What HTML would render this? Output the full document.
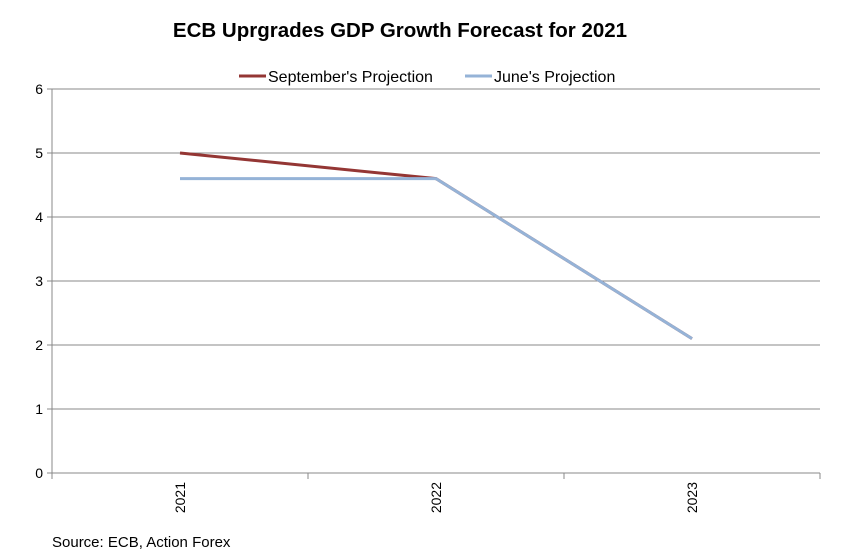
<!DOCTYPE html>
<html><head><meta charset="utf-8"><style>
body{margin:0;background:#fff;}
svg{display:block;font-family:"Liberation Sans",Arial,sans-serif;}
</style></head><body>
<svg id="chart" width="861" height="556">
<text x="400" y="37" text-anchor="middle" font-size="20.5" font-weight="bold">ECB Uprgrades GDP Growth Forecast for 2021</text>
<g>
<line x1="239" y1="76" x2="266" y2="76" stroke="#943634" stroke-width="3"/>
<text x="268" y="82" font-size="16">September's Projection</text>
<line x1="465" y1="76" x2="492" y2="76" stroke="#95b3d7" stroke-width="3"/>
<text x="494" y="82" font-size="16">June's Projection</text>
</g>
<g id="grid"></g><g id="axes"></g><g id="series"></g>
<text x="52" y="547" font-size="15">Source: ECB, Action Forex</text>
</svg>
<script>
const categories=["2021","2022","2023"];
const septemberValues=[5.0,4.6,2.1];
const juneValues=[4.6,4.6,2.1];
const yTicks=[0,1,2,3,4,5,6];
const NS="http://www.w3.org/2000/svg";
const L=52,R=820,T=89,B=473,yMax=6;
const cw=(R-L)/categories.length;
const xS=i=>L+cw*(i+0.5);
const yS=v=>B-(v/yMax)*(B-T);
function mk(tag,attrs,parent){const e=document.createElementNS(NS,tag);for(const k in attrs)e.setAttribute(k,attrs[k]);document.getElementById(parent).appendChild(e);return e;}
yTicks.forEach(v=>{
 const y=yS(v);
 if(v>0){const g=mk("line",{x1:L,x2:R,y1:y,y2:y,stroke:"#888","stroke-width":1},"grid");
 
 }
 const tk=mk("line",{x1:L-5,x2:L,y1:y,y2:y,stroke:"#888"},"axes");
 
 
 const t=mk("text",{x:L-9,y:y+5,"text-anchor":"end","font-size":"14"},"axes");
 t.textContent=v;
 
 
});
const ya=mk("line",{x1:L,x2:L,y1:T,y2:B,stroke:"#888"},"axes");


const xa=mk("line",{x1:L,x2:R,y1:B,y2:B,stroke:"#888"},"axes");


for(let i=0;i<=categories.length;i++){
 const x=L+cw*i;
 const tk=mk("line",{x1:x,x2:x,y1:B,y2:B+6,stroke:"#888"},"axes");
 
 
}
categories.forEach((c,i)=>{
 const x=xS(i)+5,y=B+9;
 const t=mk("text",{x:x,y:y,"text-anchor":"end","font-size":"14",transform:`rotate(-90 ${x} ${y})`},"axes");
 t.textContent=c;
 
 
});
function line(vals,color,name){
 const p=mk("polyline",{points:vals.map((v,i)=>xS(i)+","+yS(v)).join(" "),fill:"none",stroke:color,"stroke-width":3},"series");
 
 
}
line(septemberValues,"#943634","september-projection-line");
line(juneValues,"#95b3d7","june-projection-line");
</script>
</body></html>
